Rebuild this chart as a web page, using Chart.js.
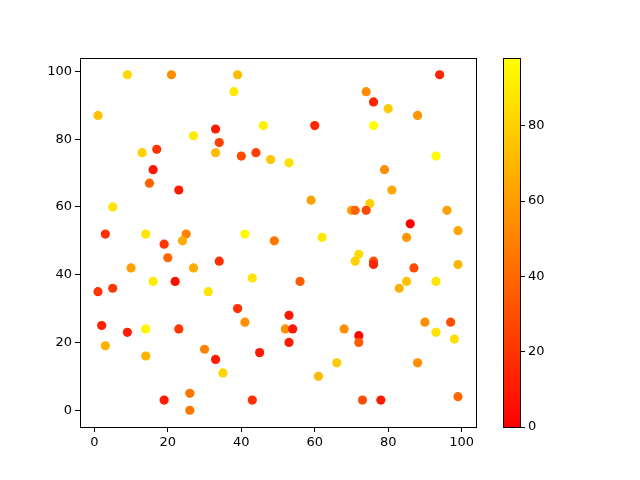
<!DOCTYPE html>
<html>
<head>
<meta charset="utf-8">
<script src="https://cdn.jsdelivr.net/npm/chart.js@4"></script>
<style>
  body { margin: 0; background: #fff; }
  #wrap { position: relative; width: 640px; height: 480px; }
  #main { position: absolute; left: 0; top: 0; width: 640px; height: 480px; }
  #cbar { position: absolute; left: 490px; top: 0; width: 150px; height: 480px; }
</style>
</head>
<body>
<div id="wrap">
  <div id="main"><canvas id="scatterChart"></canvas></div>
  <div id="cbar"><canvas id="colorbarChart"></canvas></div>
</div>
<script>
// Scatter values
const xs = [9, 21, 39, 38, 1, 33, 46, 27, 34, 17, 13, 33, 40, 44, 48, 16, 15, 23, 5, 3,
  14, 25, 24, 19, 41, 49, 94, 74, 76, 80, 88, 60, 76, 53, 93, 79, 81, 59, 75, 70,
  71, 74, 96, 86, 99, 62, 85, 20, 10, 27, 34, 16, 22, 43, 1, 5, 31, 39, 41, 2,
  9, 14, 23, 3, 14, 30, 33, 45, 35, 26, 19, 43, 26, 72, 71, 76, 76, 87, 99, 56,
  85, 83, 93, 53, 52, 54, 53, 68, 72, 72, 90, 97, 93, 98, 66, 88, 61, 73, 78, 99];
const ys = [99, 99, 99, 94, 87, 83, 84, 81, 79, 77, 76, 76, 75, 76, 74, 71, 67, 65, 60, 52,
  52, 52, 50, 49, 52, 50, 99, 94, 91, 89, 87, 84, 84, 73, 75, 71, 65, 62, 61, 59,
  59, 59, 59, 55, 53, 51, 51, 45, 42, 42, 44, 38, 38, 39, 35, 36, 35, 30, 26, 25,
  23, 24, 24, 19, 16, 18, 15, 17, 11, 5, 3, 3, 0, 46, 44, 44, 43, 42, 43, 38,
  38, 36, 38, 28, 24, 24, 20, 24, 22, 20, 26, 26, 23, 21, 14, 14, 10, 3, 3, 4];
const cs = [83, 55, 72, 90, 74, 10, 93, 90, 25, 20, 80, 72, 28, 24, 76, 8, 38, 10, 88, 18,
  88, 50, 66, 20, 96, 45, 14, 55, 14, 78, 58, 15, 98, 86, 97, 55, 65, 62, 80, 62,
  38, 28, 62, 0, 64, 90, 58, 40, 62, 66, 18, 90, 5, 88, 20, 22, 88, 18, 55, 12,
  12, 95, 20, 68, 68, 50, 10, 10, 82, 45, 10, 18, 45, 85, 80, 30, 15, 28, 70, 35,
  75, 68, 88, 8, 55, 8, 10, 55, 2, 35, 55, 30, 88, 85, 78, 55, 72, 30, 10, 40];
const axisTicks = [0, 20, 40, 60, 80, 100];
const cbarTicks = [0, 20, 40, 60, 80];

const cMin = Math.min(...cs);
const cMax = Math.max(...cs);

// matplotlib "autumn": red -> yellow
function autumn(v) {
  const g = Math.round(255 * (v - cMin) / (cMax - cMin));
  return 'rgb(255,' + g + ',0)';
}

// 5% margins around the data, like matplotlib
function padded(arr) {
  const lo = Math.min(...arr), hi = Math.max(...arr), m = (hi - lo) * 0.05;
  return [lo - m, hi + m];
}

const font = { family: 'DejaVu Sans', size: 13 };
const pts = xs.map((x, i) => ({ x: x, y: ys[i] }));

// draws the top/right edges of the axes box
const frame = {
  id: 'frame',
  afterDraw(chart) {
    const a = chart.chartArea, c = chart.ctx;
    c.save();
    c.strokeStyle = '#000';
    c.lineWidth = 1;
    c.strokeRect(Math.round(a.left) + 0.5, Math.round(a.top) + 0.5,
      Math.round(a.right - a.left), Math.round(a.bottom - a.top));
    c.restore();
  }
};

function tickAxis(ticks, min, max, pos) {
  return {
    type: 'linear',
    position: pos,
    min: min,
    max: max,
    afterBuildTicks: s => { s.ticks = ticks.map(v => ({ value: v })); },
    ticks: { color: '#000', font: font, padding: 3, maxRotation: 0 },
    grid: { drawOnChartArea: false, tickLength: 5, tickColor: '#000', tickWidth: 1 },
    border: { color: '#000', width: 1 }
  };
}

const xr = padded(xs), yr = padded(ys);
const xAxis = tickAxis(axisTicks, xr[0], xr[1], 'bottom');
xAxis.afterFit = s => { s.height = 53; };
const yAxis = tickAxis(axisTicks, yr[0], yr[1], 'left');
yAxis.afterFit = s => { s.width = 80; };

new Chart(document.getElementById('scatterChart').getContext('2d'), {
  type: 'scatter',
  data: {
    datasets: [{
      data: pts,
      pointBackgroundColor: cs.map(autumn),
      pointBorderWidth: 0,
      pointRadius: 4.6,
      pointHoverRadius: 4.6
    }]
  },
  options: {
    responsive: true,
    maintainAspectRatio: false,
    animation: false,
    layout: { padding: { left: 0, right: 164, top: 58, bottom: 0 } },
    plugins: { legend: { display: false }, tooltip: { enabled: false } },
    scales: { x: xAxis, y: yAxis }
  },
  plugins: [frame]
});

// gradient strip for the colorbar
const gradient = {
  id: 'gradient',
  beforeDatasetsDraw(chart) {
    const a = chart.chartArea, c = chart.ctx;
    const g = c.createLinearGradient(0, a.bottom, 0, a.top);
    g.addColorStop(0, autumn(cMin));
    g.addColorStop(1, autumn(cMax));
    c.save();
    c.fillStyle = g;
    c.fillRect(a.left, a.top, a.right - a.left, a.bottom - a.top);
    c.restore();
  }
};

const cAxis = tickAxis(cbarTicks, cMin, cMax, 'right');
cAxis.afterFit = s => { s.width = 120; };
cAxis.border = { display: false };

new Chart(document.getElementById('colorbarChart').getContext('2d'), {
  type: 'bar',
  data: { labels: [''], datasets: [{ data: [] }] },
  options: {
    responsive: true,
    maintainAspectRatio: false,
    animation: false,
    layout: { padding: { left: 13, right: 0, top: 58, bottom: 53 } },
    plugins: { legend: { display: false }, tooltip: { enabled: false } },
    scales: {
      x: { display: false },
      y: cAxis
    }
  },
  plugins: [gradient, frame]
});
</script>
</body>
</html>
